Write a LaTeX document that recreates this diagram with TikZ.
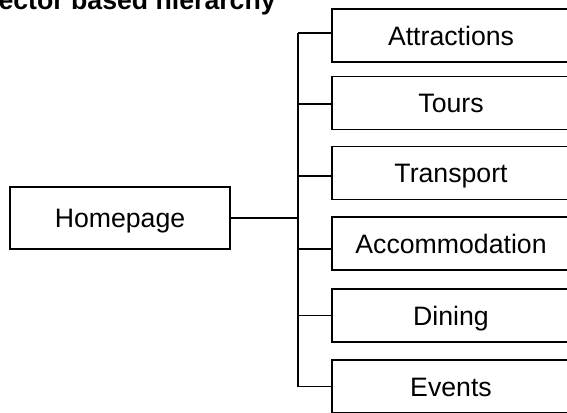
\documentclass[tikz,border=0pt]{standalone}
\usepackage{fontspec}
\setmainfont{Liberation Sans}
\begin{document}
\begin{tikzpicture}[x=0.75pt,y=-0.75pt,
  box/.style={draw=black, line width=1.3pt, fill=white, inner sep=0pt,
    minimum width=178.5pt, minimum height=39.75pt,
    font=\fontsize{20pt}{24pt}\selectfont, text height=14.3pt, text depth=0pt},
  homebox/.style={box, minimum width=165pt, minimum height=46.5pt},
  link/.style={draw=black, line width=1.1pt}]
\useasboundingbox (0,0) rectangle (567,412);
\clip (0,0) rectangle (567,412);
\fill[white] (0,0) rectangle (567,412);

% heading
\node[anchor=base east, inner sep=0pt, font=\fontsize{20pt}{24pt}\selectfont\bfseries]
  (title) at (276,9.5) {ector based hierarchy};

% root and section pages
\node[homebox] (home) at (120,218) {Homepage};
\node[box] (attr)  at (451,35.5)  {Attractions};
\node[box] (tours) at (451,103)   {Tours};
\node[box] (trans) at (451,173)   {Transport};
\node[box] (accom) at (451,243.5) {Accommodation};
\node[box] (dine)  at (451,315.5) {Dining};
\node[box] (event) at (451,386.5) {Events};

% trunk of the tree
\coordinate (top) at (298,33);
\coordinate (bot) at (298,387);
\draw[link] (top) -- (bot);
\draw[link] (home.east) -- (home.east -| top);

% branches to each section
\draw[link] ([yshift=1.9pt]attr.west)  -- ([yshift=1.9pt]attr.west -| top);
\draw[link] ([yshift=-0.75pt]tours.west) -- ([yshift=-0.75pt]tours.west -| top);
\draw[link] ([yshift=-2.25pt]trans.west) -- ([yshift=-2.25pt]trans.west -| top);
\draw[link] ([yshift=-4.1pt]accom.west) -- ([yshift=-4.1pt]accom.west -| top);
\draw[link] (dine.west)  -- (dine.west -| top);
\draw[link] (event.west) -- (event.west -| top);
\end{tikzpicture}
\end{document}
